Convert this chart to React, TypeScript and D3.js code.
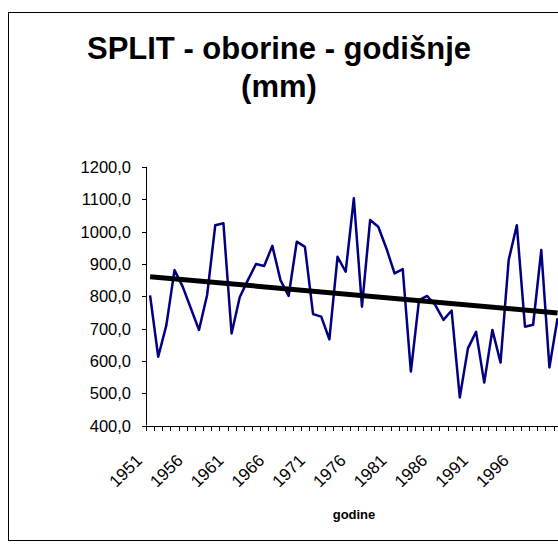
import * as d3 from 'd3';

// godišnje oborine, Split (mm)
const years: number[] = d3.range(1951, 2002);
const rainfall: number[] = [
	803, 613, 711, 881, 830, 763, 696, 804, 1020, 1026,
	685, 797, 850, 900, 894, 956, 850, 801, 969, 953,
	745, 737, 667, 922, 876, 1103, 768, 1036, 1015, 948,
	871, 884, 567, 788, 801, 773, 727, 756, 487, 639,
	690, 533, 696, 595, 912, 1020, 706, 712, 943, 580,
	732,
];
const yTicks: number[] = [400, 500, 600, 700, 800, 900, 1000, 1100, 1200];
const xTickLabels: number[] = [1951, 1956, 1961, 1966, 1971, 1976, 1981, 1986, 1991, 1996];

const titleLines = ['SPLIT - oborine - godišnje', '(mm)'];
const xTitle = 'godine';

const W = 558;
const H = 544;
const font = '"Liberation Sans", Arial, sans-serif';

export default function App() {
	const left = 146;
	const step = 8.15;
	const x = d3
		.scaleBand<number>()
		.domain(years)
		.range([left, left + years.length * step]);
	const y = d3.scaleLinear().domain([400, 1200]).range([425.6, 167]);
	const cx = (yr: number) => (x(yr) as number) + x.bandwidth() / 2;

	const line = d3
		.line<number>()
		.x((_, i) => cx(years[i]))
		.y(d => y(d));

	// linearni trend (najmanji kvadrati)
	const n = rainfall.length;
	const mi = d3.mean(d3.range(n)) as number;
	const mv = d3.mean(rainfall) as number;
	const sxy = d3.sum(rainfall, (v, i) => (i - mi) * (v - mv));
	const sxx = d3.sum(d3.range(n), i => (i - mi) ** 2);
	const slope = sxy / sxx;
	const trend = (i: number) => mv + slope * (i - mi);

	const axisY = y(400);
	const xEnd = left + years.length * step;

	return (
		<svg
			width={W}
			height={H}
			style={{ position: 'absolute', left: 0, top: 0, background: '#fff' }}
			fontFamily={font}
		>
			<rect x={8.5} y={12.5} width={700} height={528} fill="#fff" stroke="#000" />

			{titleLines.map((t, i) => (
				<text key={t} x={279} y={59 + i * 38} textAnchor="middle" fontSize={31} fontWeight="bold">
					{t}
				</text>
			))}

			{/* y os */}
			<line x1={left + 0.5} x2={left + 0.5} y1={y(1200)} y2={axisY} stroke="#000" />
			{yTicks.map(t => (
				<g key={t}>
					<line x1={left - 4} x2={left} y1={Math.round(y(t)) + 0.5} y2={Math.round(y(t)) + 0.5} stroke="#000" />
					<text x={131} y={y(t)} dy="0.36em" textAnchor="end" fontSize={16.5}>
						{d3.format('.1f')(t).replace('.', ',')}
					</text>
				</g>
			))}

			{/* x os */}
			<line x1={left} x2={xEnd} y1={Math.round(axisY) + 0.5} y2={Math.round(axisY) + 0.5} stroke="#000" />
			{d3.range(years.length + 1).map(k => (
				<line
					key={k}
					x1={Math.round(left + k * step) + 0.5}
					x2={Math.round(left + k * step) + 0.5}
					y1={Math.round(axisY)}
					y2={Math.round(axisY) + 5}
					stroke="#000"
				/>
			))}
			{xTickLabels.map(yr => (
				<text
					key={yr}
					transform={`translate(${cx(yr) - 7},${axisY + 36}) rotate(-45)`}
					textAnchor="end"
					fontSize={17}
				>
					{yr}
				</text>
			))}
			<text x={354} y={519} textAnchor="middle" fontSize={13} fontWeight="bold">
				{xTitle}
			</text>

			<path d={line(rainfall) ?? ''} fill="none" stroke="#000080" strokeWidth={2.5} strokeLinejoin="round" />
			<line
				x1={cx(years[0])}
				y1={y(trend(0))}
				x2={cx(years[n - 1])}
				y2={y(trend(n - 1))}
				stroke="#000"
				strokeWidth={5}
			/>
		</svg>
	);
}
